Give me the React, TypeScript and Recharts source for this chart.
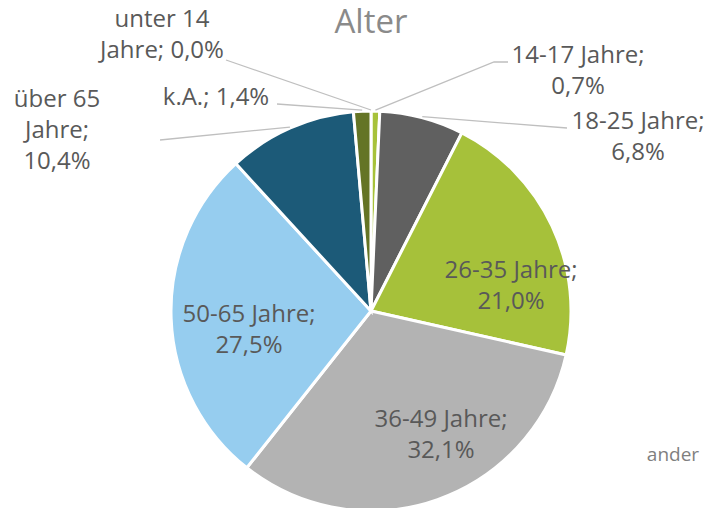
import { PieChart, Pie, Cell } from "recharts"

// Alter – Verteilung in Prozent
const categories = [
  "unter 14 Jahre",
  "14-17 Jahre",
  "18-25 Jahre",
  "26-35 Jahre",
  "36-49 Jahre",
  "50-65 Jahre",
  "über 65 Jahre",
  "k.A.",
]
const shares = [0.0, 0.7, 6.8, 21.0, 32.1, 27.5, 10.4, 1.4]

const COLORS = ["#7F7F7F", "#A7C23A", "#606060", "#A6C13A", "#B3B3B3", "#96CDEF", "#1C5A78", "#647425"]

// label placement relative to pie centre (px), words per line, optional leader points
type LabelLayout = { dx: number; dy: number; words: number[]; leader?: [number, number][] }
const LABEL_LAYOUT: Record<string, LabelLayout> = {
  "unter 14 Jahre": { dx: -209, dy: -284, words: [2, 2], leader: [[-145, -251]] },
  "14-17 Jahre": { dx: 207, dy: -248, words: [2, 1], leader: [[123, -249], [137, -249]] },
  "18-25 Jahre": { dx: 267, dy: -182, words: [2, 1], leader: [[196, -183]] },
  "26-35 Jahre": { dx: 140, dy: -33, words: [2, 1] },
  "36-49 Jahre": { dx: 70, dy: 116, words: [2, 1] },
  "50-65 Jahre": { dx: -122, dy: 11, words: [2, 1] },
  "über 65 Jahre": { dx: -314, dy: -204, words: [2, 1, 1], leader: [[-211, -171]] },
  "k.A.": { dx: -155, dy: -206, words: [2], leader: [[-94, -207]] },
}

const data = categories.map((name, i) => ({ name, value: shares[i] }))

const FONT = "'Open Sans', sans-serif"
const LINE_H = 31
const RAD = Math.PI / 180

function fmt(v: number) {
  return v.toFixed(1).replace(".", ",") + "%"
}

function renderLabel(props: any) {
  const { cx, cy, midAngle, outerRadius, name, value } = props
  const lay = LABEL_LAYOUT[name]
  if (!lay) return null
  const words = `${name}; ${fmt(value)}`.split(" ")
  const lines: string[] = []
  let k = 0
  lay.words.forEach(n => {
    lines.push(words.slice(k, k + n).join(" "))
    k += n
  })
  let path = ""
  if (lay.leader) {
    const sx = cx + (outerRadius + 1) * Math.cos(-midAngle * RAD)
    const sy = cy + (outerRadius + 1) * Math.sin(-midAngle * RAD)
    path = `M${sx},${sy}` + lay.leader.map(([x, y]) => ` L${cx + x},${cy + y}`).join("")
  }
  return (
    <g>
      {path && <path d={path} stroke="#BFBFBF" strokeWidth={1.3} fill="none" />}
      <text
        x={cx + lay.dx}
        y={cy + lay.dy}
        textAnchor="middle"
        fill="#595959"
        fontSize={24}
        fontFamily={FONT}
      >
        {lines.map((l, i) => (
          <tspan key={i} x={cx + lay.dx} dy={i === 0 ? 0 : LINE_H}>
            {l}
          </tspan>
        ))}
      </text>
    </g>
  )
}

export default function App() {
  return (
    <div style={{ position: "absolute", left: 0, top: 0, width: 705, height: 508, background: "#fff" }}>
      <PieChart width={705} height={508} margin={{ top: 0, right: 0, bottom: 0, left: 0 }}>
        <text x={371} y={33} textAnchor="middle" fill="#8A8A8A" fontSize={33} fontFamily={FONT}>
          Alter
        </text>
        <Pie
          data={data}
          dataKey="value"
          nameKey="name"
          cx={371}
          cy={311}
          outerRadius={200}
          startAngle={90}
          endAngle={-270}
          stroke="#FFFFFF"
          strokeWidth={3}
          label={renderLabel}
          labelLine={false}
          isAnimationActive={false}
        >
          {data.map((d, i) => (
            <Cell key={d.name} fill={COLORS[i]} />
          ))}
        </Pie>
        <text x={673} y={461} textAnchor="middle" fill="#7F7F7F" fontSize={19} fontFamily={FONT}>
          ander
        </text>
      </PieChart>
    </div>
  )
}
